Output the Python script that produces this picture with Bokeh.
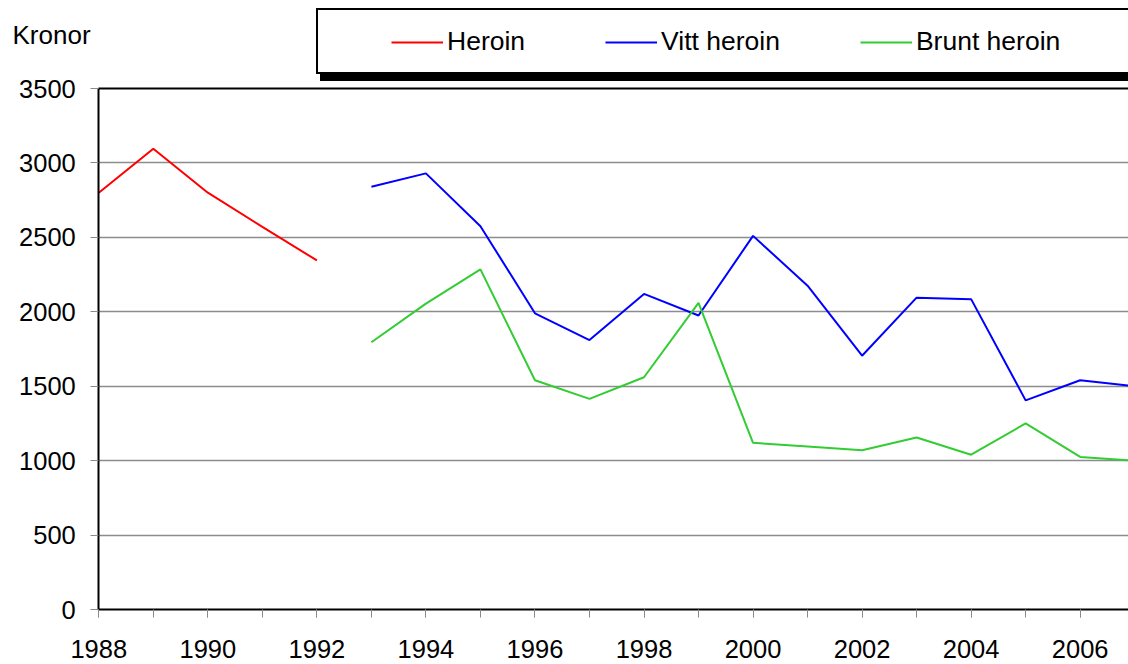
from bokeh.plotting import figure
from bokeh.models import (Range1d, FixedTicker, Legend, LegendItem, Label, Grid)
from bokeh.embed import file_html
from bokeh.resources import INLINE

# ---- data ----
heroin_years = [1988, 1989, 1990, 1991, 1992]
heroin_vals = [2800, 3095, 2800, 2570, 2345]

split_years = [1993, 1994, 1995, 1996, 1997, 1998, 1999, 2000, 2001, 2002,
               2003, 2004, 2005, 2006, 2007]
vitt_vals = [2840, 2930, 2575, 1990, 1810, 2120, 1975, 2510, 2175, 1705,
             2095, 2085, 1405, 1540, 1500]
brunt_vals = [1795, 2055, 2285, 1540, 1415, 1560, 2060, 1120, 1095, 1070,
              1155, 1040, 1250, 1025, 1000]

series_names = ["Heroin", "Vitt heroin", "Brunt heroin"]
x_tick_years = [1988, 1990, 1992, 1994, 1996, 1998, 2000, 2002, 2004, 2006]
x_minor_years = list(range(1988, 2008))
y_ticks = [0, 500, 1000, 1500, 2000, 2500, 3000, 3500]
unit_label = "Kronor"

FONT = "Liberation Sans"

# layout geometry (pixels): the frame covers the whole page, axes are pinned
W, H = 1128, 664
PX_PER_YEAR = 54.52
PX_PER_UNIT = 521 / 3500
X0 = x_minor_years[0]
X_START = X0 - 98.3 / PX_PER_YEAR
X_END = X_START + W / PX_PER_YEAR
Y_MAX = y_ticks[-1]
Y_TOP = 609 / PX_PER_UNIT
Y_BOTTOM = -(H - 609) / PX_PER_UNIT

p = figure(width=W, height=H, output_backend="svg", toolbar_location=None,
           x_range=Range1d(X_START, X_END), y_range=Range1d(Y_BOTTOM, Y_TOP),
           min_border_left=0, min_border_right=0, min_border_top=0,
           min_border_bottom=0)
p.outline_line_color = None
p.background_fill_color = "white"
p.border_fill_color = "white"

# x axis, pinned at y = 0
xa = p.xaxis[0]
xa.fixed_location = 0
xa.bounds = (X0, X_END)
xa.ticker = FixedTicker(ticks=x_tick_years, minor_ticks=x_minor_years)
xa.major_label_overrides = {y: str(y) for y in x_tick_years}
xa.axis_line_color = "black"
xa.axis_line_width = 2
xa.major_tick_in = 0
xa.major_tick_out = 8
xa.minor_tick_in = 0
xa.minor_tick_out = 8
xa.major_tick_line_color = "#8a8a8a"
xa.minor_tick_line_color = "#8a8a8a"
xa.major_label_text_font = FONT
xa.major_label_text_font_size = "25.5px"
xa.major_label_text_color = "black"
xa.major_label_standoff = 22

# y axis, pinned at the first year
ya = p.yaxis[0]
ya.fixed_location = X0
ya.bounds = (0, Y_MAX)
ya.ticker = FixedTicker(ticks=y_ticks)
ya.major_label_overrides = {v: str(v) for v in y_ticks}
ya.axis_line_color = "black"
ya.axis_line_width = 2
ya.major_tick_in = 0
ya.major_tick_out = 8
ya.minor_tick_line_color = None
ya.major_tick_line_color = "#8a8a8a"
ya.major_label_text_font = FONT
ya.major_label_text_font_size = "25.5px"
ya.major_label_text_color = "black"
ya.major_label_standoff = 15

# grid lines + top border line, only right of the y axis
p.xgrid.grid_line_color = None
p.ygrid.ticker = FixedTicker(ticks=y_ticks[1:-1])
p.ygrid.grid_line_color = "#8c8c8c"
p.ygrid.grid_line_width = 1.4
top_line = Grid(dimension=1, ticker=FixedTicker(ticks=[Y_MAX]),
                grid_line_color="black", grid_line_width=2)
p.add_layout(top_line)
if "cross_bounds" in Grid.properties():
    p.ygrid.cross_bounds = (X0, X_END)
    top_line.cross_bounds = (X0, X_END)

# lines
r_her = p.line(heroin_years, heroin_vals, line_color="#ff0000", line_width=2)
r_vitt = p.line(split_years, vitt_vals, line_color="#0000ff", line_width=2)
r_brunt = p.line(split_years, brunt_vals, line_color="#33cc33", line_width=2)

# unit label
p.add_layout(Label(x=12, y=H - 34.5, x_units="screen", y_units="screen",
                   text=unit_label, text_font=FONT, text_font_size="26px",
                   text_color="black", text_baseline="middle",
                   text_align="left"))

# legend shadow + box + contents
dummy = p.line([], [], line_alpha=0)

def box_legend(bg, loc):
    return Legend(items=[LegendItem(label=" ", renderers=[dummy])],
                  location=loc, orientation="horizontal", padding=0, margin=0,
                  spacing=0, glyph_width=1, glyph_height=62, label_height=62,
                  label_width=809, label_standoff=0,
                  label_text_font_size="2px", label_text_alpha=0,
                  background_fill_color=bg, background_fill_alpha=1,
                  border_line_color="black", border_line_alpha=1,
                  border_line_width=2.5)

p.add_layout(box_legend("black", (320, H - 81)), "center")
p.add_layout(box_legend("white", (316, H - 74)), "center")

content = Legend(items=[LegendItem(label=series_names[0], renderers=[r_her]),
                        LegendItem(label=series_names[1], renderers=[r_vitt]),
                        LegendItem(label=series_names[2], renderers=[r_brunt])],
                 location=(391, H - 57), orientation="horizontal", padding=0,
                 margin=0, spacing=80, glyph_width=52, glyph_height=30,
                 label_height=30, label_standoff=4,
                 label_text_font=FONT, label_text_font_size="26.5px",
                 label_text_color="black", background_fill_alpha=0,
                 border_line_color=None)
p.add_layout(content, "center")

open("out.html", "w").write(file_html(p, INLINE))
